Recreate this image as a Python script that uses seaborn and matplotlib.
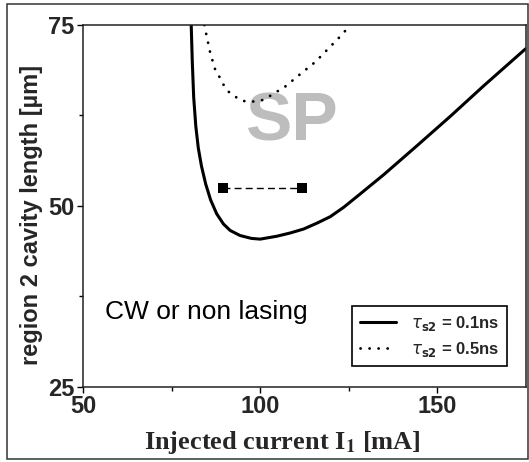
import matplotlib
matplotlib.use("Agg")
import matplotlib.pyplot as plt
from matplotlib.patches import Rectangle
import seaborn as sns
import numpy as np

# ---- data ----
I_tau01 = [80.5, 80.8, 81.2, 81.8, 82.5, 83.4, 84.6, 86.0, 87.7, 89.6, 91.5, 94.3,
           97.5, 100.0, 104.7, 108.5, 112.3, 116.0, 119.8, 123.6, 127.4, 134.9,
           144.3, 153.8, 163.2, 175.0]
L_tau01 = [75.0, 70.0, 65.0, 61.0, 58.0, 55.5, 53.0, 50.8, 48.9, 47.5, 46.6, 45.9,
           45.5, 45.4, 45.8, 46.25, 46.8, 47.6, 48.5, 49.8, 51.3, 54.3,
           58.3, 62.4, 66.6, 71.7]

I_tau05 = [84.2, 84.9, 85.9, 87.3, 88.2, 89.4, 91.0, 92.9, 95.1, 97.7, 100.5, 102.8,
           107.1, 111.3, 115.6, 119.8, 123.6, 125.2]
L_tau05 = [75.0, 73.4, 71.1, 68.8, 68.1, 66.9, 65.8, 65.1, 64.5, 64.4, 64.6, 65.2,
           66.5, 68.2, 69.9, 72.0, 73.9, 75.0]

I_pts = [89.4, 111.9]
L_pts = [52.4, 52.4]

labels = [r'$\tau_{\mathbf{s2}}$ = 0.1ns', r'$\tau_{\mathbf{s2}}$ = 0.5ns']
x_ticks = [50, 100, 150]
y_ticks = [25, 50, 75]

sns.set_style("ticks")
plt.rcParams['font.family'] = ['Liberation Sans', 'DejaVu Sans']

fig = plt.figure(figsize=(5.29, 4.62), dpi=100)
ax = fig.add_axes([0.1575, 0.1630, 0.9934 - 0.1575, 0.9459 - 0.1630])

sns.lineplot(x=I_tau01, y=L_tau01, sort=False, estimator=None, ax=ax,
             color='black', linewidth=2.2, label=labels[0])
sns.lineplot(x=I_tau05, y=L_tau05, sort=False, estimator=None, ax=ax,
             color='black', linewidth=2.0, label=labels[1],
             linestyle=(0, (0.05, 3.2)), dash_capstyle='round')
sns.lineplot(x=I_pts, y=L_pts, sort=False, estimator=None, ax=ax,
             color='black', linewidth=1.0, linestyle=(0, (5, 3)),
             marker='s', markersize=7.8, markeredgewidth=0, legend=False)

ax.set_xlim(50, 175)
ax.set_ylim(25, 75)
ax.set_xticks(x_ticks)
ax.set_yticks(y_ticks)
ax.set_xticks([75, 125], minor=True)
ax.set_yticks([37.5, 62.5], minor=True)
ax.set_xticklabels([str(t) for t in x_ticks])
ax.set_yticklabels([str(t) for t in y_ticks])
ax.tick_params(axis='both', which='major', direction='out', length=4.3, width=1.0,
               labelsize=17, pad=2, color='black')
ax.tick_params(axis='both', which='minor', direction='out', length=3.0, width=1.0,
               color='black')
for lab in ax.get_xticklabels() + ax.get_yticklabels():
    lab.set_fontweight('bold')

for s in ax.spines.values():
    s.set_visible(True)
    s.set_linewidth(1.1)
    s.set_color('#222222')

ax.set_xlabel(r'Injected current I$_{\mathbf{1}}$ [mA]', family='Liberation Serif',
              fontweight='bold', fontsize=19, math_fontfamily='stix',
              va='baseline', ha='center')
ax.xaxis.set_label_coords(0.451, -0.172)
ax.set_ylabel('region 2 cavity length [µm]', fontweight='bold', fontsize=17,
              va='center', ha='center')
ax.yaxis.set_label_coords(-0.118, 0.475)

ax.text(109.0, 59.0, 'SP', color='#bdbdbd', fontsize=50, fontweight='bold',
        family=['Liberation Sans Narrow', 'Liberation Sans'],
        ha='center', va='baseline', zorder=1)
ax.text(56.1, 34.4, 'CW or non lasing', color='black', fontsize=19,
        ha='left', va='baseline')

leg = ax.legend(loc='lower right', bbox_to_anchor=(0.958, 0.057),
                borderaxespad=0, frameon=True, fancybox=False, framealpha=1,
                edgecolor='black', handlelength=2.2, handletextpad=0.9,
                labelspacing=0.4, borderpad=0.45,
                prop={'family': 'Liberation Sans', 'weight': 'bold', 'size': 12})
leg.get_frame().set_linewidth(1.2)

fig.patches.append(Rectangle((7.3 / 529, 0.0058), 1 - 7.3 / 529 - 0.002, 0.9913 - 0.0058,
                             transform=fig.transFigure, fill=False,
                             edgecolor='#333333', linewidth=1.1))

fig.savefig('out.png', dpi=100)
